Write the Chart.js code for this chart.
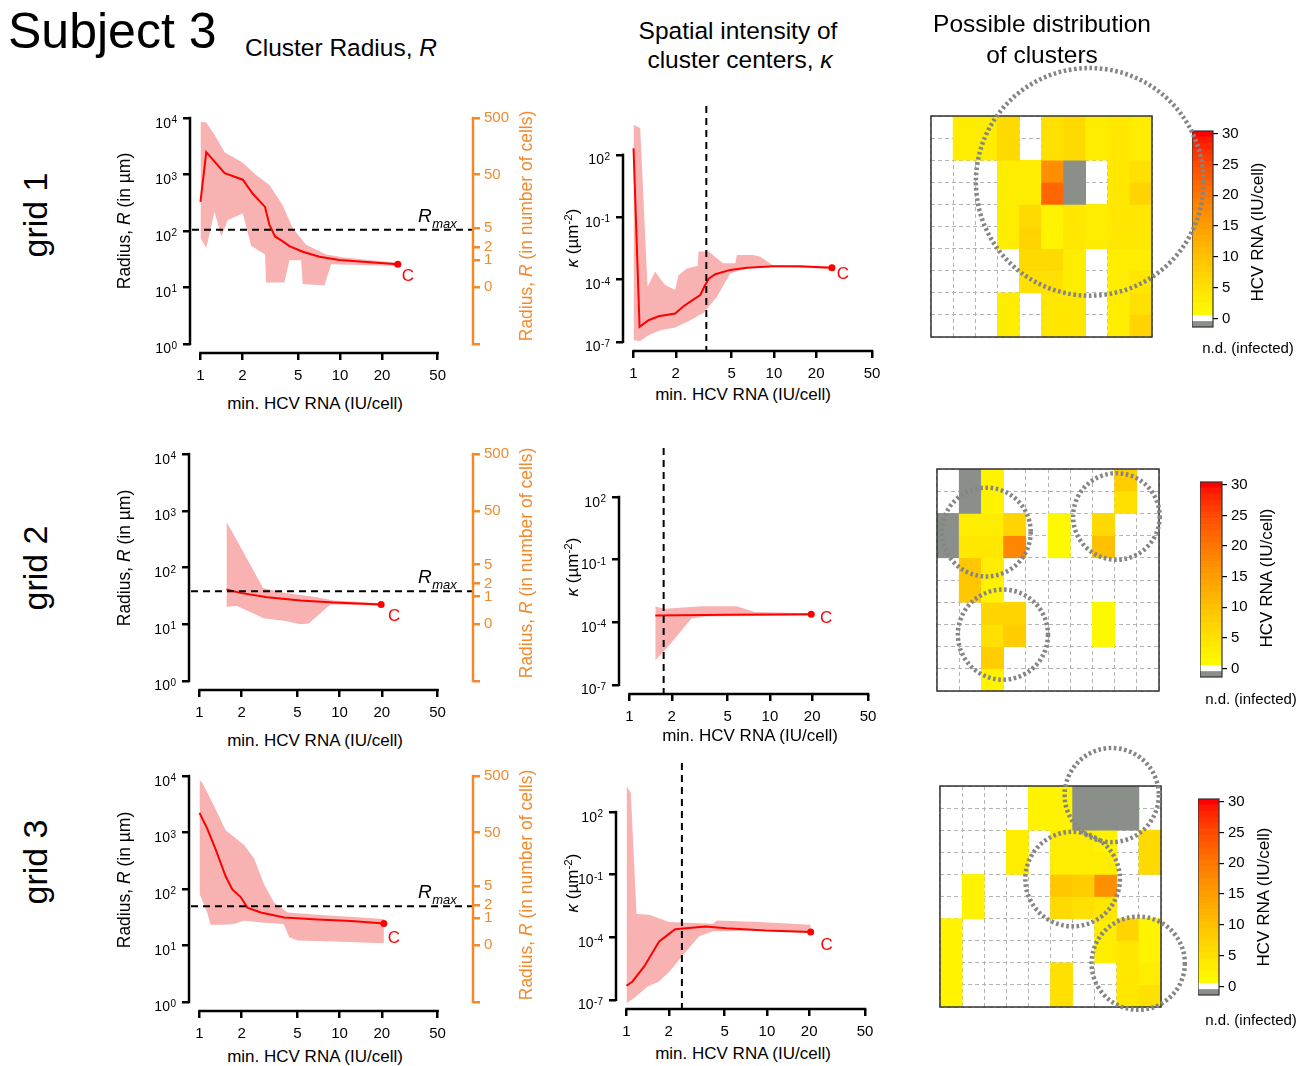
<!DOCTYPE html>
<html>
<head>
<meta charset="utf-8">
<script src="https://cdn.jsdelivr.net/npm/chart.js@4.4.1/dist/chart.umd.min.js"></script>
<style>
  body { margin: 0; background: #fff; }
  #page { position: relative; width: 1310px; height: 1066px; overflow: hidden; font-family: 'Liberation Sans', Arial, sans-serif; color: #000; }
  #page canvas { position: absolute; }
  .txt { position: absolute; white-space: nowrap; line-height: 1; }
  .txt sup { font-size: 0.68em; vertical-align: 0.5em; line-height: 0; }
</style>
</head>
<body>
<div id="page"></div>
<script>
const FONT = "'Liberation Sans', Arial, sans-serif";
const ORANGE = '#f08a2c';
const RED = '#ff0000';
const BAND = '#f8b2b2';
const ND_GREY = '#8b8f8a';

// axes
const xTicks = [1, 2, 5, 10, 20, 50];
const radiusTicks = [1, 10, 100, 1000, 10000];
const radiusTickExps = ['0', '1', '2', '3', '4'];
const cellTickPos = [1, 10.1, 30.6, 52, 112, 1000, 10000];
const cellTickLabels = ['', '0', '1', '2', '5', '50', '500'];
const kappaTicks = [1e-7, 1e-4, 1e-1, 1e2];
const kappaTickExps = ['-7', '-4', '-1', '2'];
const cbarTicks = [0, 5, 10, 15, 20, 25, 30];

// grid 1 - radius
const r1X = [1, 1.1, 1.49, 2.01, 2.37, 2.9, 3.12, 3.42, 3.84, 4.34, 5.4, 7.11, 9.89, 15.4, 25.9];
const r1Y = [327, 2490, 1058, 810, 456, 267, 128, 80, 67, 54, 43, 35, 30.6, 28.3, 25.7];
const r1UpX = [1, 1.1, 1.26, 1.49, 2.01, 2.5, 3.12, 3.88, 4.58, 5.71, 7.94, 11.0, 25.9];
const r1UpY = [8630, 8300, 5060, 2490, 1623, 977, 654, 286, 112, 57, 38.5, 33.6, 27.5];
const r1LoX = [1, 1.1, 1.26, 1.41, 1.57, 2.01, 2.31, 2.9, 2.95, 3.99, 4.34, 5.26, 5.4, 7.73, 8.62, 25.9];
const r1LoY = [75, 50, 219, 80, 157, 205, 54, 38.5, 12.3, 12.3, 30.2, 30.2, 11.5, 10.8, 25.8, 24.1];
const rmax1 = 105;

// grid 2 - radius
const r2X = [1.557, 1.96, 3.04, 5.25, 9.07, 19.8];
const r2Y = [40.8, 35.7, 30, 26.2, 24.2, 22.3];
const r2UpX = [1.557, 1.71, 2.84, 3.99, 6.9, 9.07, 19.8];
const r2UpY = [634, 425, 43.6, 35.7, 30, 26.2, 23.5];
const r2LoX = [1.557, 1.856, 2.875, 4.1, 5.25, 6.02, 8.59, 19.8];
const r2LoY = [20.3, 20.9, 12.7, 11.4, 10, 10.3, 22.3, 21.4];
const rmax2 = 38;

// grid 3 - radius
const r3X = [1, 1.135, 1.302, 1.536, 1.714, 1.967, 2.196, 2.74, 4.02, 6.97, 12.1, 20.7];
const r3Y = [2228, 1171, 510, 168, 98, 72, 46.9, 38.3, 31.4, 28.9, 27.1, 24.6];
const r3UpX = [1, 1.045, 1.302, 1.536, 2.08, 2.45, 2.89, 3.41, 4.25, 6.97, 20.7];
const r3UpY = [8510, 7650, 2617, 1095, 599, 350, 120, 57.3, 38.3, 34.9, 29.3];
const r3LoX = [1, 1.135, 1.199, 1.454, 1.762, 2.08, 2.74, 3.98, 4.37, 5.01, 9.18, 20.7];
const r3LoY = [82.4, 38.3, 23.4, 23.4, 24, 27.4, 25.6, 24, 14, 12.3, 11.8, 11];
const rmax3 = 49.5;

// grid 1 - kappa
const k1X = [1, 1.104, 1.28, 1.507, 1.98, 2.27, 2.68, 2.99, 3.19, 3.43, 3.82, 4.89, 6.43, 9.96, 15.4, 25.9];
const k1Y = [209, 5.3e-7, 1.1e-6, 1.7e-6, 2.3e-6, 5.2e-6, 1.1e-5, 1.8e-5, 4.5e-5, 1.1e-4, 1.8e-4, 2.9e-4, 3.7e-4, 4.4e-4, 4.4e-4, 3.7e-4];
const k1UpX = [1, 1.116, 1.258, 1.427, 1.549, 1.682, 1.98, 2.09, 2.4, 2.875, 2.9, 3.43, 4.33, 5.31, 5.45, 7.17, 8.0, 9.96, 25.9];
const k1UpY = [2790, 1930, 4.5e-5, 2.4e-4, 1.1e-4, 5.4e-5, 3.1e-5, 1.6e-4, 3.4e-4, 4.6e-4, 2.2e-3, 2.2e-3, 6.0e-4, 6.0e-4, 1.5e-3, 1.5e-3, 1.25e-3, 4.6e-4, 4.1e-4];
const k1LoX = [1, 1.116, 1.28, 1.549, 1.98, 2.54, 3.16, 3.93, 4.89, 6.43, 9.96, 25.9];
const k1LoY = [1.2e-7, 1.1e-7, 2.1e-7, 3.6e-7, 4.9e-7, 1.1e-6, 2.5e-6, 1.5e-5, 2.0e-4, 3.4e-4, 4.1e-4, 3.2e-4];
const kcut1 = 3.3;

// grid 2 - kappa
const k2X = [1.526, 5.05, 19.7];
const k2Y = [2.1e-4, 2.3e-4, 2.4e-4];
const k2UpX = [1.526, 1.78, 3.25, 5.79, 7.83, 19.7];
const k2UpY = [5.7e-4, 4.4e-4, 5.9e-4, 5.9e-4, 3.1e-4, 2.7e-4];
const k2LoX = [1.526, 1.78, 2.1, 2.76, 3.44, 19.7];
const k2LoY = [1.5e-6, 4.4e-6, 1.6e-5, 1.5e-4, 1.9e-4, 2.1e-4];
const kcut2 = 1.75;

// grid 3 - kappa
const k3X = [1, 1.103, 1.336, 1.574, 1.708, 1.905, 2.22, 2.645, 3.67, 5.1, 9.82, 20.5];
const k3Y = [4.7e-7, 7.6e-7, 4.0e-6, 2.5e-5, 6.3e-5, 1.1e-4, 2.4e-4, 2.7e-4, 3.3e-4, 2.7e-4, 2.1e-4, 1.8e-4];
const k3UpX = [1, 1.073, 1.178, 1.45, 2.01, 4.1, 4.44, 8.8, 20.5];
const k3UpY = [1700, 815, 1.3e-3, 1.2e-3, 5.3e-4, 4.4e-4, 6.4e-4, 5.3e-4, 4.0e-4];
const k3LoX = [1, 1.165, 1.411, 1.708, 2.07, 2.37, 2.72, 3.29, 4.1, 8.8, 20.5];
const k3LoY = [6.9e-8, 1.4e-7, 4.4e-7, 7.6e-7, 2.7e-6, 8.3e-6, 2.5e-5, 1.1e-4, 1.9e-4, 2.1e-4, 1.6e-4];
const kcut3 = 2.48;

// heatmaps: rows top to bottom, null = no cell, -1 = n.d. (infected)
const grid1Cells = [
  [null, 3, 3, 6, null, 5, 6, 3, 4, 3],
  [null, 3, 3, 6, null, 5, 6, 3, 4, 3],
  [null, null, null, 3, 3, 17, -1, null, 4, 5],
  [null, null, null, 3, 3, 22, -1, null, 4, 7],
  [null, null, null, 3, 6, 2, 4, 3, 4, 4],
  [null, null, null, 3, 7, 2, 4, 3, 4, 4],
  [null, null, null, null, 6, 6, 3, null, 3, 3],
  [null, null, null, null, 5, 5, 3, null, 3, 4],
  [null, null, null, 3, null, 4, 4, null, 3, 5],
  [null, null, null, 3, null, 4, 4, null, 3, 7]
];
const grid2Cells = [
  [null, -1, 2, null, null, null, null, null, 8, null],
  [null, -1, 2, null, null, null, null, null, 5, null],
  [-1, 3, 3, 7, null, 1, null, 6, null, null],
  [-1, 4, 4, 18, null, 1, null, 10, null, null],
  [null, 9, 3, null, null, null, null, null, null, null],
  [null, 9, 2, null, null, null, null, null, null, null],
  [null, null, 7, 7, null, null, null, 1, null, null],
  [null, null, 5, 8, null, null, null, 1, null, null],
  [null, null, 8, null, null, null, null, null, null, null],
  [null, null, 2, null, null, null, null, null, null, null]
];
const grid3Cells = [
  [null, null, null, null, 2, 2, -1, -1, -1, null],
  [null, null, null, null, 2, 2, -1, -1, -1, null],
  [null, null, null, 3, null, 3, 3, 2, null, 6],
  [null, null, null, 3, null, 3, 3, 3, null, 6],
  [null, 2, null, null, null, 9, 8, 17, null, null],
  [null, 2, null, null, null, 6, 5, 4, null, null],
  [2, null, null, null, null, null, null, 3, 7, 2],
  [2, null, null, null, null, null, null, 3, 4, 2],
  [2, null, null, null, null, 5, null, null, 4, 3],
  [2, null, null, null, null, 5, null, null, 4, 5]
];
// circles: centre x, centre y (cells from left / bottom), radius (cells)
const grid1Circles = [[7.18, 7.02, 5.15]];
const grid2Circles = [[2.22, 7.16, 2.0], [8.08, 7.86, 1.95], [2.97, 2.54, 2.03]];
const grid3Circles = [[7.77, 9.59, 2.13], [6.0, 5.79, 2.14], [8.97, 1.98, 2.11]];

Chart.defaults.font.family = FONT;
Chart.defaults.color = '#000';

const page = document.getElementById('page');

function makeCanvas(left, top, w, h) {
  const c = document.createElement('canvas');
  c.width = w; c.height = h;
  c.style.left = left + 'px'; c.style.top = top + 'px';
  c.style.width = w + 'px'; c.style.height = h + 'px';
  page.appendChild(c);
  return c;
}

function addText(html, x, y, size, opts = {}) {
  const d = document.createElement('div');
  d.className = 'txt';
  d.innerHTML = html;
  d.style.fontSize = size + 'px';
  d.style.left = x + 'px';
  d.style.top = y + 'px';
  if (opts.color) d.style.color = opts.color;
  const tx = opts.align === 'left' ? '0' : '-50%';
  d.style.transform = `translate(${tx}, -50%)` + (opts.rotate ? ` rotate(${opts.rotate}deg)` : '');
  page.appendChild(d);
}

function heatColor(v) {
  if (v === null) return 'rgba(0,0,0,0)';
  if (v < 0) return ND_GREY;
  const t = Math.min(v / 30, 1);
  return `rgb(255,${Math.round(255 * Math.pow(1 - t, 0.7))},0)`;
}

// R-style axis line from first to last tick
const rAxes = {
  id: 'rAxes',
  afterDraw(chart, args, opts) {
    const ctx = chart.ctx, a = chart.chartArea;
    (opts.axes || []).forEach(ax => {
      const s = chart.scales[ax.id];
      const p0 = s.getPixelForValue(s.ticks[0].value);
      const p1 = s.getPixelForValue(s.ticks[s.ticks.length - 1].value);
      ctx.save();
      ctx.strokeStyle = ax.color || '#000';
      ctx.lineWidth = 2.5;
      ctx.beginPath();
      if (s.isHorizontal()) {
        ctx.moveTo(p0 - 1.25, a.bottom); ctx.lineTo(p1 + 1.25, a.bottom);
      } else {
        const x = s.position === 'right' ? a.right : a.left;
        ctx.moveTo(x, p0 + 1.25); ctx.lineTo(x, p1 - 1.25);
      }
      ctx.stroke();
      ctx.restore();
    });
  }
};

// "10" with a raised exponent for the y ticks
const powLabels = {
  id: 'powLabels',
  afterDraw(chart, args, o) {
    if (!o.exps) return;
    const ctx = chart.ctx, s = chart.scales.y, right = chart.chartArea.left - 13;
    ctx.save();
    ctx.fillStyle = '#000';
    ctx.textAlign = 'right';
    ctx.textBaseline = 'alphabetic';
    s.ticks.forEach((t, i) => {
      const py = s.getPixelForValue(t.value);
      ctx.font = `10px ${FONT}`;
      const ew = ctx.measureText(o.exps[i]).width;
      ctx.fillText(o.exps[i], right, py + 5);
      ctx.font = `14px ${FONT}`;
      ctx.fillText('10', right - ew - 0.5, py + 9.5);
    });
    ctx.restore();
  }
};

const marks = {
  id: 'marks',
  afterDatasetsDraw(chart, args, o) {
    const ctx = chart.ctx, a = chart.chartArea, x = chart.scales.x, y = chart.scales.y;
    ctx.save();
    ctx.strokeStyle = '#000';
    ctx.lineWidth = 2;
    ctx.setLineDash([7, 5]);
    if (o.hline != null) {
      const py = y.getPixelForValue(o.hline);
      ctx.beginPath(); ctx.moveTo(a.left + 2, py); ctx.lineTo(a.right, py); ctx.stroke();
      ctx.setLineDash([]);
      ctx.fillStyle = '#000';
      ctx.textAlign = 'left';
      ctx.textBaseline = 'alphabetic';
      ctx.font = `italic 19px ${FONT}`;
      const rx = a.right - 55;
      ctx.fillText('R', rx, py - 8);
      const w = ctx.measureText('R').width;
      ctx.font = `italic 13px ${FONT}`;
      ctx.fillText('max', rx + w + 0.5, py - 2);
    }
    if (o.vline != null) {
      ctx.setLineDash([7, 5]);
      const px = x.getPixelForValue(o.vline);
      ctx.beginPath(); ctx.moveTo(px, a.top); ctx.lineTo(px, a.bottom); ctx.stroke();
    }
    ctx.setLineDash([]);
    const meta = chart.getDatasetMeta(0);
    const pt = meta.data[meta.data.length - 1];
    ctx.fillStyle = RED;
    ctx.font = `17px ${FONT}`;
    ctx.textAlign = 'center';
    ctx.textBaseline = 'middle';
    ctx.fillText('C', pt.x + o.cdx, pt.y + o.cdy);
    ctx.restore();
  }
};

const heatFrame = {
  id: 'heatFrame',
  afterDraw(chart, args, o) {
    const ctx = chart.ctx, a = chart.chartArea;
    ctx.save();
    ctx.strokeStyle = '#333';
    ctx.lineWidth = o.lw || 1.5;
    ctx.strokeRect(a.left, a.top, a.right - a.left, a.bottom - a.top);
    if (o.circles) {
      const x = chart.scales.x, y = chart.scales.y;
      const unit = y.getPixelForValue(0) - y.getPixelForValue(1);
      ctx.strokeStyle = '#858585';
      ctx.lineWidth = 4.5;
      ctx.setLineDash([2.6, 2.6]);
      o.circles.forEach(([cx, cy, r]) => {
        ctx.beginPath();
        ctx.arc(x.getPixelForValue(cx - 0.5), y.getPixelForValue(cy), r * unit, 0, Math.PI * 2);
        ctx.stroke();
      });
    }
    ctx.restore();
  }
};

function logAxis(range, ticks, labels, color, size, pad) {
  return {
    type: 'logarithmic', bounds: 'data', min: range[0], max: range[1],
    afterBuildTicks: s => { s.ticks = ticks.map(v => ({ value: v })); },
    afterFit: s => { if (s.isHorizontal()) s.height = size; else s.width = size; },
    grid: { drawOnChartArea: false, drawTicks: true, tickLength: 7, color, lineWidth: 2.5 },
    border: { display: false },
    ticks: { display: !!labels, color, padding: pad, autoSkip: false, maxRotation: 0, minRotation: 0,
      font: { size: 15, family: FONT }, callback: (v, i) => labels ? labels[i] : '' }
  };
}

function bandDatasets(d) {
  const pts = (xs, ys) => xs.map((x, i) => ({ x, y: ys[i] }));
  const n = d.x.length;
  return [
    { data: pts(d.x, d.y), borderColor: RED, borderWidth: 2, fill: false, tension: 0,
      pointRadius: c => c.dataIndex === n - 1 ? 3.5 : 0, pointBackgroundColor: RED, pointBorderWidth: 0 },
    { data: pts(d.loX, d.loY), borderWidth: 0, borderColor: 'rgba(0,0,0,0)', pointRadius: 0, fill: false, backgroundColor: BAND },
    { data: pts(d.upX, d.upY), borderWidth: 0, borderColor: 'rgba(0,0,0,0)', pointRadius: 0, fill: '-1', backgroundColor: BAND }
  ];
}

const radiusXRange = [Math.pow(10, -0.075), Math.pow(10, 1.952)];
const radiusYRange = [Math.pow(10, -0.16), Math.pow(10, 4.16)];
const kappaXRange = [Math.pow(10, -0.075), Math.pow(10, 1.77)];
const kappaYRange = [Math.pow(10, -7.44), Math.pow(10, 4.35)];

function radiusChart(box, d) {
  const padL = 62, padR = 50, padT = 10, padB = 32;
  const cv = makeCanvas(box.left - padL, box.top - padT, box.right - box.left + padL + padR, box.bottom - box.top + padT + padB);
  new Chart(cv, {
    type: 'line',
    data: { datasets: bandDatasets(d) },
    options: {
      responsive: false, animation: false,
      layout: { padding: { top: padT, left: 0, right: 0, bottom: 0 }, autoPadding: false },
      scales: {
        x: logAxis(radiusXRange, xTicks, xTicks.map(String), '#000', padB, 7),
        y: logAxis(radiusYRange, radiusTicks, null, '#000', padL, 2),
        y2: Object.assign(logAxis(radiusYRange, cellTickPos, cellTickLabels, ORANGE, padR, 4), { position: 'right' })
      },
      plugins: {
        legend: { display: false }, tooltip: { enabled: false },
        rAxes: { axes: [{ id: 'x' }, { id: 'y' }, { id: 'y2', color: ORANGE }] },
        powLabels: { exps: radiusTickExps },
        marks: { hline: d.rmax, cdx: d.cdx, cdy: d.cdy }
      }
    },
    plugins: [rAxes, powLabels, marks]
  });
}

function kappaChart(box, d) {
  const padL = 62, padR = 12, padT = 10, padB = 32;
  const cv = makeCanvas(box.left - padL, box.top - padT, box.right - box.left + padL + padR, box.bottom - box.top + padT + padB);
  new Chart(cv, {
    type: 'line',
    data: { datasets: bandDatasets(d) },
    options: {
      responsive: false, animation: false,
      layout: { padding: { top: padT, left: 0, right: padR, bottom: 0 }, autoPadding: false },
      scales: {
        x: logAxis(kappaXRange, xTicks, xTicks.map(String), '#000', padB, 7),
        y: logAxis(kappaYRange, kappaTicks, null, '#000', padL, 2)
      },
      plugins: {
        legend: { display: false }, tooltip: { enabled: false },
        rAxes: { axes: [{ id: 'x' }, { id: 'y' }] },
        powLabels: { exps: kappaTickExps },
        marks: { vline: d.cut, cdx: d.cdx, cdy: d.cdy }
      }
    },
    plugins: [rAxes, powLabels, marks]
  });
}

function heatChart(box, cells, circles) {
  const P = 60;
  const cv = makeCanvas(box.left - P, box.top - P, box.size + 2 * P, box.size + 2 * P);
  const nRows = cells.length;
  const gridLine = { color: '#b4b4b4', lineWidth: 1, drawTicks: false };
  new Chart(cv, {
    type: 'bar',
    data: {
      labels: cells[0].map((_, i) => String(i + 1)),
      datasets: cells.map((row, r) => ({
        data: row.map(v => v === null ? null : [nRows - 1 - r, nRows - r]),
        backgroundColor: row.map(heatColor),
        borderWidth: 0, grouped: false, barPercentage: 1, categoryPercentage: 1
      }))
    },
    options: {
      responsive: false, animation: false,
      layout: { padding: P, autoPadding: false },
      scales: {
        x: { grid: Object.assign({ offset: true }, gridLine), border: { display: false, dash: [4, 3] },
          ticks: { display: false }, afterFit: s => { s.height = 0; } },
        y: { min: 0, max: nRows, afterBuildTicks: s => { s.ticks = cells.map((_, i) => ({ value: i })).concat([{ value: nRows }]); },
          grid: gridLine, border: { display: false, dash: [4, 3] },
          ticks: { display: false }, afterFit: s => { s.width = 0; } }
      },
      plugins: { legend: { display: false }, tooltip: { enabled: false }, heatFrame: { circles, lw: 1.5 } }
    },
    plugins: [heatFrame]
  });
}

function colorbar(rect) {
  const padT = 6, padB = 6, padR = 40;
  const cv = makeCanvas(rect.left, rect.top - padT, rect.right - rect.left + padR, rect.bottom - rect.top + padT + padB);
  const bands = [{ lo: -1.4, hi: -0.5, c: ND_GREY }, { lo: -0.5, hi: 0.5, c: '#ffffff' }];
  for (let k = 1; k <= 30; k++) bands.push({ lo: k - 0.5, hi: k + 0.5, c: heatColor(k) });
  new Chart(cv, {
    type: 'bar',
    data: {
      labels: [''],
      datasets: bands.map(b => ({ data: [[b.lo, b.hi]], backgroundColor: b.c, borderWidth: 0,
        grouped: false, barPercentage: 1, categoryPercentage: 1 }))
    },
    options: {
      responsive: false, animation: false,
      layout: { padding: { top: padT, bottom: padB, left: 0, right: 0 }, autoPadding: false },
      scales: {
        x: { display: false },
        y: { position: 'right', min: -1.4, max: 30.45,
          afterBuildTicks: s => { s.ticks = cbarTicks.map(v => ({ value: v })); },
          afterFit: s => { s.width = padR; },
          grid: { drawOnChartArea: false, drawTicks: true, tickLength: 5, color: '#000', lineWidth: 1.2 },
          border: { display: false },
          ticks: { padding: 4, font: { size: 15, family: FONT }, color: '#000' } }
      },
      plugins: { legend: { display: false }, tooltip: { enabled: false }, heatFrame: { lw: 1.2 } }
    },
    plugins: [heatFrame]
  });
}

// row 1
radiusChart({ left: 190, top: 106, right: 473, bottom: 353 },
  { x: r1X, y: r1Y, upX: r1UpX, upY: r1UpY, loX: r1LoX, loY: r1LoY, rmax: rmax1, cdx: 10, cdy: 12 });
kappaChart({ left: 623, top: 106, right: 882, bottom: 351 },
  { x: k1X, y: k1Y, upX: k1UpX, upY: k1UpY, loX: k1LoX, loY: k1LoY, cut: kcut1, cdx: 11, cdy: 7 });
colorbar({ left: 1192, top: 124, right: 1213, bottom: 334 });
heatChart({ left: 931, top: 116, size: 221 }, grid1Cells, grid1Circles);

// row 2
radiusChart({ left: 189, top: 442, right: 473, bottom: 690 },
  { x: r2X, y: r2Y, upX: r2UpX, upY: r2UpY, loX: r2LoX, loY: r2LoY, rmax: rmax2, cdx: 13, cdy: 12 });
kappaChart({ left: 619, top: 448, right: 878, bottom: 694 },
  { x: k2X, y: k2Y, upX: k2UpX, upY: k2UpY, loX: k2LoX, loY: k2LoY, cut: kcut2, cdx: 15, cdy: 4 });
colorbar({ left: 1200, top: 475, right: 1222, bottom: 684 });
heatChart({ left: 937, top: 469, size: 222 }, grid2Cells, grid2Circles);

// row 3
radiusChart({ left: 189, top: 764, right: 473, bottom: 1011 },
  { x: r3X, y: r3Y, upX: r3UpX, upY: r3UpY, loX: r3LoX, loY: r3LoY, rmax: rmax3, cdx: 10, cdy: 15 });
kappaChart({ left: 616, top: 763, right: 875, bottom: 1009 },
  { x: k3X, y: k3Y, upX: k3UpX, upY: k3UpY, loX: k3LoX, loY: k3LoY, cut: kcut3, cdx: 16, cdy: 13 });
colorbar({ left: 1198, top: 792, right: 1219, bottom: 1002 });
heatChart({ left: 940, top: 786, size: 221 }, grid3Cells, grid3Circles);

// text
addText('Subject 3', 8, 31, 50, { align: 'left' });
addText('Cluster Radius, <i>R</i>', 245, 47.5, 24.5, { align: 'left' });
addText('Spatial intensity of', 738, 30.5, 24.5);
addText('cluster centers, <i>κ</i>', 740, 59.5, 24.5);
addText('Possible distribution', 1042, 23.5, 24.5);
addText('of clusters', 1042, 54.5, 24.5);

[[215, 'grid 1'], [568, 'grid 2'], [862, 'grid 3']].forEach(([cy, t]) => addText(t, 35, cy, 34, { rotate: -90 }));

[221, 558, 880].forEach(cy => addText('Radius, <i>R</i> (in µm)', 125, cy, 17.5, { rotate: -90 }));
[226, 563, 885].forEach(cy => addText('Radius, <i>R</i> (in number of cells)', 527, cy, 17.5, { rotate: -90, color: ORANGE }));
[403, 740, 1056].forEach(cy => addText('min. HCV RNA (IU/cell)', 315, cy, 17));
[[743, 394], [750, 735], [743, 1053]].forEach(([cx, cy]) => addText('min. HCV RNA (IU/cell)', cx, cy, 17));
[238, 567, 883].forEach(cy => addText('<i>κ</i> (µm<sup>-2</sup>)', 572, cy, 17, { rotate: -90 }));

[[1256.5, 232], [1265.5, 578], [1262.5, 897]].forEach(([cx, cy]) => addText('HCV RNA (IU/cell)', cx, cy, 17, { rotate: -90 }));
[[1248, 347], [1251, 698], [1251, 1019]].forEach(([cx, cy]) => addText('n.d. (infected)', cx, cy, 15));
</script>
</body>
</html>
